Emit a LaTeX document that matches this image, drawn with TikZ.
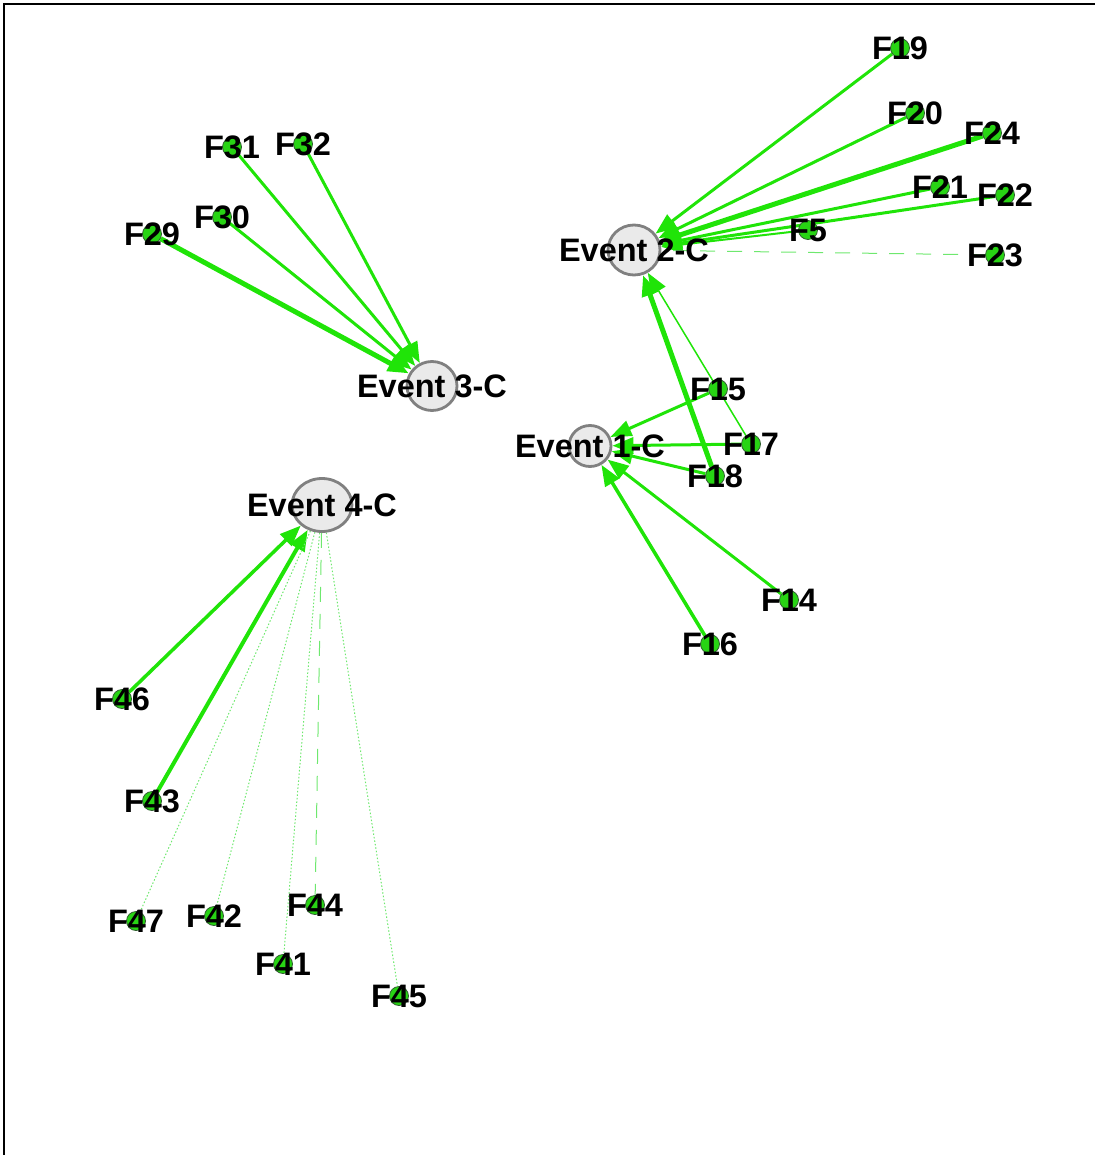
\documentclass[tikz,border=0pt]{standalone}
\usepackage{fontspec}
\setmainfont{Liberation Sans}
\usetikzlibrary{arrows.meta,shapes.geometric}
\pgfdeclarelayer{edges}
\pgfsetlayers{edges,main}
\definecolor{edgegreen}{RGB}{32,228,8}
\definecolor{softgreen}{RGB}{110,232,110}
\definecolor{nodegreen}{RGB}{40,212,20}
\definecolor{nodeedge}{RGB}{50,95,50}
\definecolor{eventfill}{RGB}{234,234,234}
\definecolor{eventedge}{RGB}{128,128,128}
\begin{document}
\begin{tikzpicture}[x=1pt,y=-1pt,
  labeltext/.style={font=\bfseries\fontsize{32.5}{32.5}\selectfont,text=black,inner sep=0pt},
  fnode/.style={circle,fill=nodegreen,draw=nodeedge,line width=0.8pt,minimum size=19pt,inner sep=0pt,
    label={[labeltext]center:#1}},
  event/.style={ellipse,fill=eventfill,draw=eventedge,line width=2.8pt,inner sep=0pt,
    label={[labeltext]center:#1}},
  arr/.style={draw=edgegreen,line width=#1,-{Triangle[length=21pt,width=16pt]}},
  arr/.default=3pt,
  faint/.style={draw=softgreen,line width=1pt,dash pattern=on 1.5pt off 2pt},
  longdash/.style={draw=softgreen,line width=1pt,dash pattern=on 15pt off 12pt}]

\useasboundingbox (0,0) rectangle (1095,1155);
% frame
\draw[line width=2pt] (4,1155) -- (4,4) -- (1095,4);

% event nodes
\node[event=Event 2-C,minimum width=52pt,minimum height=50pt] (e2) at (634,250) {};
\node[event=Event 1-C,minimum width=42pt,minimum height=41pt] (e1) at (590,446) {};
\node[event=Event 3-C,minimum width=50pt,minimum height=49pt] (e3) at (432,386) {};
\node[event=Event 4-C,minimum width=60pt,minimum height=53pt] (e4) at (322,505) {};

% cluster 2
\node[fnode=F19] (f19) at (900,48) {};
\node[fnode=F20] (f20) at (915,113) {};
\node[fnode=F24] (f24) at (992,133) {};
\node[fnode=F21] (f21) at (940,187) {};
\node[fnode=F22] (f22) at (1005,195) {};
\node[fnode=F5]  (f5)  at (808,230) {};
\node[fnode=F23] (f23) at (995,255) {};

% cluster 1
\node[fnode=F15] (f15) at (718,389) {};
\node[fnode=F17] (f17) at (751,444) {};
\node[fnode=F18] (f18) at (715,476) {};
\node[fnode=F14] (f14) at (789,600) {};
\node[fnode=F16] (f16) at (710,644) {};

% cluster 3
\node[fnode=F31] (f31) at (232,147) {};
\node[fnode=F32] (f32) at (303,144) {};
\node[fnode=F30] (f30) at (222,217) {};
\node[fnode=F29] (f29) at (152,234) {};

% cluster 4
\node[fnode=F46] (f46) at (122,699) {};
\node[fnode=F43] (f43) at (152,801) {};
\node[fnode=F47] (f47) at (136,921) {};
\node[fnode=F42] (f42) at (214,916) {};
\node[fnode=F44] (f44) at (315,905) {};
\node[fnode=F41] (f41) at (283,964) {};
\node[fnode=F45] (f45) at (399,996) {};

\begin{pgfonlayer}{edges}
  % into Event 2-C
  \draw[arr] (f19) -- (e2);
  \draw[arr] (f20) -- (e2);
  \draw[arr=5pt] (f24) -- (e2);
  \draw[arr] (f21) -- (e2);
  \draw[arr] (f22) -- (e2);
  \draw[arr=2pt] (f5) -- (e2);
  \draw[arr=5pt] (f18) -- (e2);
  \draw[arr=1.5pt] (f17) -- (e2);
  \draw[longdash] (f23) -- (e2);
  % into Event 1-C
  \draw[arr] (f15) -- (e1);
  \draw[arr] (f17) -- (e1);
  \draw[arr] (f18) -- (e1);
  \draw[arr] (f14) -- (e1);
  \draw[arr=3.5pt] (f16) -- (e1);
  % into Event 3-C
  \draw[arr] (f31) -- (e3);
  \draw[arr] (f32) -- (e3);
  \draw[arr] (f30) -- (e3);
  \draw[arr=5pt] (f29) -- (e3);
  % into Event 4-C
  \draw[arr=3.5pt] (f46) -- (e4);
  \draw[arr=4pt] (f43) -- (e4);
  \draw[faint] (e4) -- (f47);
  \draw[faint] (e4) -- (f42);
  \draw[faint] (e4) -- (f41);
  \draw[faint] (e4) -- (f45);
  \draw[longdash] (e4) -- (f44);
\end{pgfonlayer}
\end{tikzpicture}
\end{document}
